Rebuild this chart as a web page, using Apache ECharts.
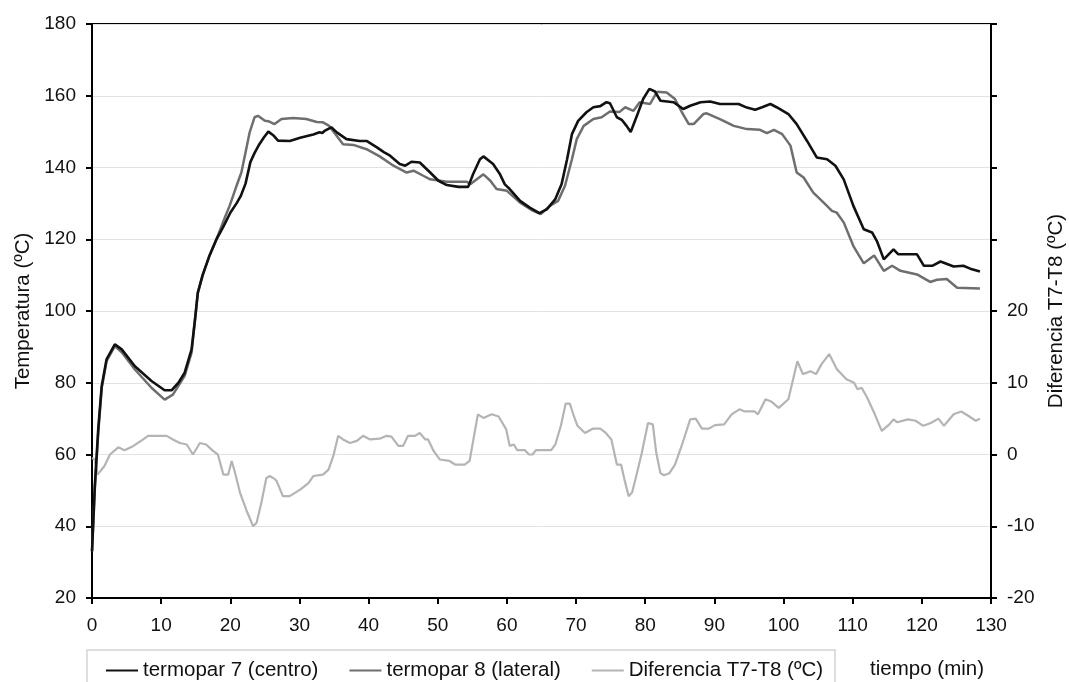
<!DOCTYPE html>
<html>
<head>
<meta charset="utf-8">
<script src="https://cdn.jsdelivr.net/npm/echarts@6/dist/echarts.min.js"></script>
<style>
html,body{margin:0;padding:0;background:#fff;}
#chart{width:1069px;height:682px;}
</style>
</head>
<body>
<div id="chart"></div>
<script>
// Series names
const seriesNames = ['termopar 7 (centro)', 'termopar 8 (lateral)', 'Diferencia T7-T8 (ºC)'];

// termopar 7 (centro): time (min) and temperature (ºC)
const t7Time = [0,0.4,0.9,1.4,2.1,3.3,4.3,6.2,8.6,10.5,11.5,12.5,13.4,14.4,14.9,15.3,16.0,17.0,18.0,19.0,20.0,20.9,21.5,22.2,22.9,23.5,24.2,24.9,25.5,26.2,26.9,28.6,30.1,32.0,32.9,33.3,33.7,34.6,35.4,36.8,38.7,39.7,41.2,42.2,43.1,44.5,45.3,46.2,47.4,48.9,50.1,51.3,53.0,54.4,55.1,56.1,56.6,58.0,59.0,59.7,60.4,61.9,63.3,64.7,65.8,67.0,67.9,68.7,69.4,70.3,71.5,72.5,73.5,74.4,74.9,75.9,76.6,77.3,77.9,78.8,79.7,80.6,81.4,82.2,84.1,85.5,86.5,88.0,89.4,90.8,93.5,94.7,95.9,96.9,98.1,99.0,100.7,101.9,103.4,104.8,106.3,107.5,108.7,110.1,111.6,112.8,113.5,114.5,115.9,116.6,119.3,120.3,121.5,122.7,124.6,126.0,127.0,128.4];
const t7Temp = [33,51,67,79,86.5,90.7,89.3,84.6,80.5,77.9,77.9,80.0,82.8,89.3,97.7,105.1,110,115.5,120,123.5,127.4,130,132,135.5,141.5,144,146.5,148.5,150,149,147.5,147.4,148.3,149.2,149.8,149.6,150.3,151.2,149.8,147.9,147.4,147.4,145.6,144.3,143.3,141.0,140.5,141.6,141.4,138.6,136.3,135.1,134.6,134.6,138.1,142.3,143.1,141.0,138.1,135.3,134.0,130.7,128.8,127.3,128.4,131.2,135.3,142.3,149.3,153.0,155.4,156.8,157.1,158.2,157.9,154.0,153.3,151.6,149.9,154.4,159.1,161.9,161.2,158.6,158.2,156.3,157.2,158.2,158.4,157.7,157.7,156.7,156.1,156.8,157.7,156.8,154.9,152.1,147.4,142.8,142.3,140.5,136.7,129.3,122.8,121.9,119.5,114.4,117.2,115.8,115.8,112.6,112.6,113.8,112.4,112.6,111.8,111.0];

// termopar 8 (lateral)
const t8Time = [0,0.4,0.9,1.4,2.1,3.3,4.3,6.2,8.6,10.5,11.7,13.4,14.4,14.9,15.3,16.0,17.0,18.0,19.3,19.9,20.9,21.6,22.2,22.8,23.5,24.0,25.0,25.5,26.4,27.4,29.1,31.0,32.5,33.4,34.3,35.4,36.3,37.8,39.7,41.6,43.6,45.5,46.5,47.9,48.9,51.3,54.2,54.7,56.6,57.6,58.5,60.0,61.9,63.8,64.9,66.2,67.4,68.4,69.4,70.1,71.1,72.5,73.7,74.9,76.3,77.1,78.3,79.2,80.7,81.7,83.1,84.3,85.3,86.3,87.0,88.4,88.9,90.8,92.8,94.7,96.6,97.6,98.6,99.8,101.0,101.9,102.9,104.3,105.8,107.0,107.7,108.7,110.1,111.6,113.1,114.5,115.7,116.9,119.3,121.2,122.2,123.6,125.1,128.4];
const t8Temp = [33,50,66,78.5,86,90.2,88.5,83.7,78.6,75.3,76.7,81.9,88.4,97.7,105,110,115.5,120,126.5,129.3,134.9,138.6,144.2,149.8,154.0,154.4,153.0,152.9,152.1,153.5,153.8,153.5,152.7,152.6,151.6,148.8,146.5,146.3,145.1,143.1,140.5,138.6,139.1,137.7,136.7,136.0,136.0,135.3,138.1,136.3,134.0,133.5,130.2,127.9,127.0,129.3,130.7,134.9,142.3,147.9,151.6,153.5,154.0,155.6,155.5,156.8,155.8,158.2,157.7,161.1,160.9,159.1,155.4,152.1,152.1,154.9,155.1,153.5,151.6,150.7,150.5,149.6,150.5,149.3,146.1,138.6,137.2,133.0,130.2,127.9,127.4,124.7,118.1,113.3,115.5,111.2,112.6,111.2,110.2,108.1,108.7,108.9,106.5,106.3];

// Diferencia T7-T8 (ºC), right axis
const difTime = [0,0.4,0.8,1.8,2.6,3.8,4.7,6.0,7.4,8.1,10.8,11.7,12.7,13.7,14.6,15.6,16.5,17.5,18.2,19.0,19.7,20.2,20.7,21.4,22.3,23.3,23.8,24.5,25.2,25.7,26.4,26.7,27.6,28.6,30.1,31.3,32.0,33.4,34.2,34.9,35.6,36.3,37.3,38.3,39.2,40.2,41.6,42.6,43.3,44.3,45.0,45.7,46.7,47.4,48.2,48.6,49.4,50.3,51.7,52.5,53.9,54.6,55.8,56.6,57.8,58.8,59.9,60.4,61.0,61.5,62.6,63.2,63.7,64.2,66.4,67.0,67.8,68.5,69.1,69.7,70.2,71.3,72.4,73.5,74.3,75.1,75.9,76.5,77.0,77.6,78.1,78.8,79.5,80.4,81.1,81.6,82.2,82.7,83.5,84.3,85.4,86.5,87.3,88.2,89.2,90.1,91.4,92.5,93.6,94.4,95.8,96.3,97.4,98.2,99.3,100.7,102.0,102.8,103.9,104.7,105.5,106.6,107.7,109.1,110.2,110.7,111.3,112.1,113.2,114.2,115.3,115.9,116.4,118.0,119.1,120.2,121.3,122.4,123.2,124.6,125.7,126.7,127.8,128.4];
const difValue = [-0.5,-0.7,-2.8,-1.6,0,1.0,0.6,1.2,2.1,2.6,2.6,2.1,1.6,1.4,0,1.6,1.4,0.5,0,-2.8,-2.8,-0.9,-2.6,-5.3,-7.7,-10,-9.5,-6.7,-3.3,-3.0,-3.4,-3.7,-5.8,-5.8,-4.9,-4.0,-3.0,-2.8,-2.1,-0.2,2.6,2.1,1.6,1.9,2.6,2.1,2.2,2.6,2.5,1.2,1.2,2.6,2.6,3.0,2.1,2.1,0.5,-0.7,-0.9,-1.4,-1.4,-0.9,5.6,5.1,5.6,5.3,3.5,1.2,1.4,0.6,0.6,0,0,0.6,0.6,1.4,4.0,7.1,7.1,5.3,4.0,3.0,3.6,3.6,3.0,2.1,-1.4,-1.4,-3.5,-5.8,-5.3,-2.6,0.2,4.4,4.2,0.2,-2.6,-2.9,-2.6,-1.4,1.6,4.9,5.0,3.6,3.6,4.1,4.2,5.6,6.3,6.0,6.0,5.6,7.7,7.4,6.5,7.7,13.0,11.2,11.6,11.2,12.6,14.0,11.9,10.5,10.0,9.1,9.3,7.9,5.6,3.3,4.2,4.9,4.5,4.9,4.7,4.0,4.4,5.0,4.0,5.6,6.0,5.4,4.7,5.0];

// Axis settings
const xTicks = {min: 0, max: 130, interval: 10};
const leftTicks = {min: 20, max: 180, interval: 20};
const rightTicks = {min: -20, max: 60, interval: 10, labelMax: 20};
const axisNames = {left: 'Temperatura (ºC)', right: 'Diferencia T7-T8 (ºC)', x: 'tiempo (min)'};

const zip = (a, b) => a.map((v, i) => [v, b[i]]);

const FONT = '"Liberation Sans", Arial, sans-serif';
const TICK_FS = 19;
const NAME_FS = 20.5;
const chart = echarts.init(document.getElementById('chart'), null, {renderer: 'canvas'});

chart.setOption({
  animation: false,
  backgroundColor: '#fff',
  textStyle: {fontFamily: FONT, color: '#111'},
  grid: {left: 92, right: 78, top: 24, bottom: 84, containLabel: false, outerBoundsMode: 'none',
    show: true, borderColor: '#000', borderWidth: 2, backgroundColor: 'transparent'},
  legend: {
    left: 87, top: 650,
    padding: [10, 12, 24, 18],
    itemGap: 30,
    itemWidth: 32, itemHeight: 14,
    itemStyle: {opacity: 0},
    borderColor: '#d4d4d4', borderWidth: 1.5,
    textStyle: {fontFamily: FONT, fontSize: NAME_FS, color: '#111'},
    data: seriesNames
  },
  xAxis: {
    type: 'value', min: xTicks.min, max: xTicks.max, interval: xTicks.interval,
    axisLine: {onZero: false, lineStyle: {color: '#000', width: 2}},
    axisTick: {show: true, inside: false, length: 6, lineStyle: {color: '#000', width: 2}},
    axisLabel: {fontSize: TICK_FS, color: '#111', margin: 18, fontFamily: FONT},
    splitLine: {show: false}
  },
  yAxis: [
    {
      type: 'value', min: leftTicks.min, max: leftTicks.max, interval: leftTicks.interval,
      name: axisNames.left, nameLocation: 'middle', nameRotate: 90, nameGap: 58,
      nameTextStyle: {fontSize: NAME_FS, color: '#111', fontFamily: FONT},
      axisLine: {show: true, lineStyle: {color: '#000', width: 2}},
      axisTick: {show: true, length: 6, lineStyle: {color: '#000', width: 2}},
      axisLabel: {fontSize: TICK_FS, color: '#111', margin: 16, fontFamily: FONT},
      splitLine: {show: true, lineStyle: {color: '#e2e2e2', width: 1}}
    },
    {
      type: 'value', position: 'right', min: rightTicks.min, max: rightTicks.max, interval: rightTicks.interval,
      name: axisNames.right, nameLocation: 'middle', nameRotate: 90, nameGap: 54,
      nameTextStyle: {fontSize: NAME_FS, color: '#111', fontFamily: FONT},
      axisLine: {show: true, lineStyle: {color: '#000', width: 2}},
      axisTick: {show: true, length: 6, lineStyle: {color: '#000', width: 2}},
      axisLabel: {fontSize: TICK_FS, color: '#111', margin: 16, fontFamily: FONT,
        formatter: v => (v <= rightTicks.labelMax ? String(v) : '')},
      splitLine: {show: false}
    }
  ],
  graphic: [{
    type: 'text', right: 1069 - 984, top: 659,
    style: {text: axisNames.x, font: NAME_FS + 'px ' + FONT, fill: '#111'}
  }],
  series: [
    {name: seriesNames[2], type: 'line', yAxisIndex: 1, data: zip(difTime, difValue), symbol: 'none',
      lineStyle: {color: '#b4b4b4', width: 2.2}, itemStyle: {color: '#b4b4b4'}, z: 2},
    {name: seriesNames[1], type: 'line', yAxisIndex: 0, data: zip(t8Time, t8Temp), symbol: 'none',
      lineStyle: {color: '#6e6e6e', width: 2.5}, itemStyle: {color: '#6e6e6e'}, z: 3},
    {name: seriesNames[0], type: 'line', yAxisIndex: 0, data: zip(t7Time, t7Temp), symbol: 'none',
      lineStyle: {color: '#111', width: 2.6}, itemStyle: {color: '#111'}, z: 4}
  ]
});
</script>
</body>
</html>
